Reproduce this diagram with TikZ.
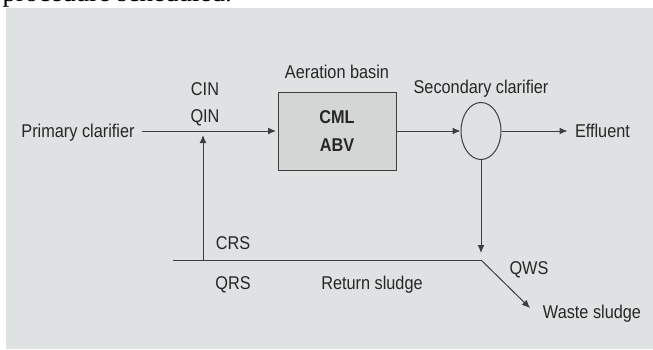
\documentclass[tikz,border=0pt]{standalone}
\usepackage{fontspec}
\setmainfont{Liberation Sans}
\newfontfamily\diagfont[FakeStretch=0.88]{Liberation Sans}
\newfontfamily\bookfont{Liberation Serif}
\usetikzlibrary{positioning,shapes,calc,arrows.meta}
\definecolor{paper}{RGB}{222,226,226}
\definecolor{ink}{RGB}{62,62,62}
\definecolor{tank}{RGB}{212,214,214}

\begin{document}
\begin{tikzpicture}[->,>={Latex[length=8pt,width=7pt]},x=1pt,y=1pt,
                    line width=1pt,color=ink,
                    label node/.style={font=\diagfont\fontsize{18.5}{22}\selectfont,inner sep=2pt,
                                       text=black!85,text height=13.2pt,text depth=0pt},
                    basin node/.style={rectangle,fill=tank,draw,minimum width=118pt,
                                       minimum height=78pt,align=center,text=black!85,
                                       font=\diagfont\fontsize{18.5}{28}\selectfont\bfseries},
                    clarifier node/.style={ellipse,draw,fill=paper,minimum width=40pt,
                                           minimum height=57pt,inner sep=0pt}
                   ]
  \clip (0,0) rectangle (653,349);
  \fill[white] (0,0) rectangle (653,349);
  \fill[paper] (6,0) rectangle (653,341);
  \node[anchor=base west,inner sep=0pt,text=black,
        font=\bookfont\fontsize{27}{30}\selectfont] (head) at (2,347) {procedure scheduled.};

  \node[label node] (pc) at (78,218) {Primary clarifier};
  \node[basin node] (ab) at (337,218) {CML\\ABV};
  \node[label node] (abl) [above=11pt of ab] {Aeration basin};
  \node[clarifier node] (sc) at (481,218) {};
  \node[label node] (scl) [above=6pt of sc] {Secondary clarifier};
  \node[label node] (eff) [right=71pt of sc] {Effluent};

  \node[label node] (cin) at (205,260) {CIN};
  \node[label node] (qin) at (205,233) {QIN};
  \node[label node] (crs) at (233,106) {CRS};
  \node[label node] (qrs) at (233,66) {QRS};
  \node[label node] (rsl) at (372,66) {Return sludge};
  \node[label node] (qws) at (529,81) {QWS};
  \node[label node] (wsl) at (592,37) {Waste sludge};

  \coordinate (j) at (481,89);   % split of the underflow
  \coordinate (rl) at (173,89);
  \coordinate (rt) at (203,89);
  \coordinate (m) at (rt |- pc);
  \coordinate (wt) at (530,41);

  \path%
    (pc) edge [shorten <=5pt,shorten >=1.5pt] (ab)
    (ab) edge (sc)
    (sc) edge [shorten >=5pt] (eff)
         edge [shorten >=7pt] (j)
    (rt) edge [shorten >=4pt] (m)
    (j)  edge (wt);
  \draw[-] (rl) -- (j);
\end{tikzpicture}
\end{document}
